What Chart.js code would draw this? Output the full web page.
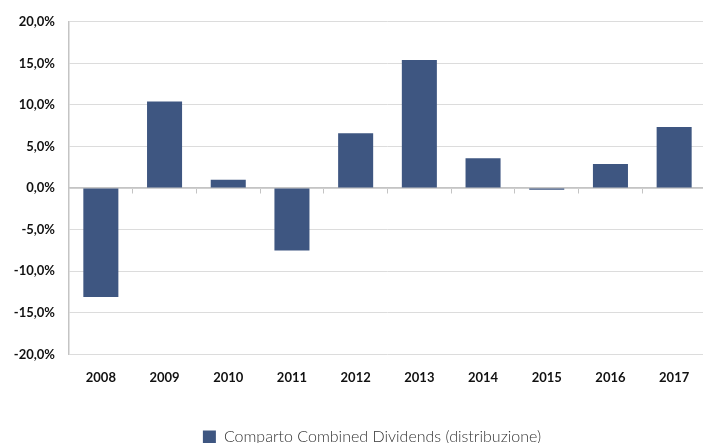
<!DOCTYPE html>
<html>
<head>
<meta charset="utf-8">
<script src="https://cdn.jsdelivr.net/npm/chart.js@4/dist/chart.umd.min.js"></script>
<style>
    html, body { margin: 0; padding: 0; background: #fff; overflow: hidden; }
    #wrap { width: 706px; height: 443px; }
</style>
</head>
<body>
<div id="wrap"><canvas id="barChart"></canvas></div>
<script>
const years = ["2008", "2009", "2010", "2011", "2012", "2013", "2014", "2015", "2016", "2017"];
const returns = [-13.1, 10.4, 1.0, -7.5, 6.6, 15.4, 3.6, -0.2, 2.9, 7.35];
const seriesName = "Comparto Combined Dividends (distribuzione)";
const yTicks = [-20, -15, -10, -5, 0, 5, 10, 15, 20];

const barColor = "#3e5681";
const gridColor = "#dcdcdc";
const axisColor = "#c4c4c4";
const fontFamily = "Lato, 'Open Sans', sans-serif";

// legend sits a bit right of the canvas centre in the original
const legendShift = {
    id: "legendShift",
    afterLayout(chart) {
        chart.legend.left += 19;
        chart.legend.right += 19;
    },
};

new Chart(document.getElementById("barChart"), {
    type: "bar",
    data: {
        labels: years,
        datasets: [
            {
                label: seriesName,
                data: returns,
                backgroundColor: barColor,
                borderWidth: 0,
                barPercentage: 0.55,
                categoryPercentage: 1,
            },
        ],
    },
    options: {
        responsive: true,
        maintainAspectRatio: false,
        animation: false,
        layout: { padding: { top: 14, left: 0, right: 0, bottom: -12 } },
        scales: {
            x: {
                grid: { display: false },
                border: { display: false },
                afterFit: (scale) => { scale.height += 35; },
                ticks: {
                    color: "#111",
                    padding: 8,
                    font: { family: fontFamily, size: 13, weight: "bold" },
                },
            },
            zero: {
                type: "category",
                axis: "x",
                labels: years,
                position: { y: 0 },
                grid: {
                    offset: true,
                    drawOnChartArea: false,
                    tickLength: 5,
                    color: axisColor,
                },
                border: { display: true, color: axisColor, width: 1.5 },
                ticks: { display: false },
            },
            y: {
                min: -20,
                max: 20,
                afterFit: (scale) => { scale.width = 69; },
                afterBuildTicks: (scale) => {
                    scale.ticks = yTicks.map((v) => ({ value: v }));
                },
                grid: { color: gridColor, drawTicks: false },
                border: { display: true, color: axisColor, width: 1.5 },
                ticks: {
                    color: "#111",
                    padding: 14,
                    font: { family: fontFamily, size: 13, weight: "bold" },
                    callback: (v) => v.toFixed(1).replace(".", ",") + "%",
                },
            },
        },
        plugins: {
            legend: {
                position: "bottom",
                labels: {
                    color: "#333",
                    boxWidth: 13,
                    boxHeight: 13,
                    padding: 0,
                    font: { family: fontFamily, size: 16, weight: "300" },
                },
            },
            tooltip: { enabled: false },
        },
    },
    plugins: [legendShift],
});
</script>
</body>
</html>
